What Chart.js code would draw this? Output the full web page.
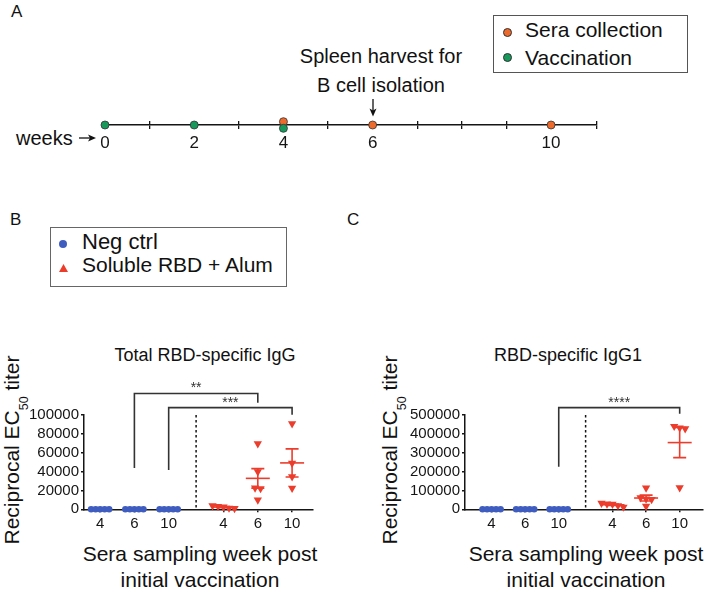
<!DOCTYPE html>
<html><head><meta charset="utf-8">
<script src="https://cdn.jsdelivr.net/npm/chart.js@4.4.1/dist/chart.umd.min.js"></script>
<style>
html,body{margin:0;padding:0;background:#fff;}
body{width:708px;height:592px;position:relative;overflow:hidden;font-family:"Liberation Sans",Arial,sans-serif;color:#111;}
.t{position:absolute;white-space:nowrap;line-height:1;}
.c{transform:translateX(-50%);}
.rot{transform:translate(-50%,-50%) rotate(-90deg);}
.box{position:absolute;box-sizing:border-box;}
canvas{position:absolute;}
.dot{position:absolute;border-radius:50%;box-sizing:border-box;}
.tri{position:absolute;clip-path:polygon(50% 0,100% 100%,0 100%);}
</style></head><body>

<!-- Panel A -->
<div class="t" style="left:11px;top:2.6px;font-size:17px;">A</div>
<div class="box" style="left:493px;top:15px;width:195px;height:58px;border:1px solid #555;"></div>
<div class="dot" style="left:502.5px;top:27.5px;width:9px;height:9px;background:#eb6a2c;border:0.8px solid #333;"></div>
<div class="t" style="left:525px;top:19.2px;font-size:21px;">Sera collection</div>
<div class="dot" style="left:502.5px;top:52.5px;width:9px;height:9px;background:#16995b;border:0.8px solid #333;"></div>
<div class="t" style="left:525px;top:47.2px;font-size:21px;">Vaccination</div>
<div class="t c" style="left:381px;top:46.1px;font-size:20px;">Spleen harvest for</div>
<div class="t c" style="left:381px;top:75.1px;font-size:20px;">B cell isolation</div>
<div class="t" style="left:16px;top:128.1px;font-size:20px;">weeks</div>
<svg style="position:absolute;left:0;top:0" width="708" height="160">
  <line x1="79" y1="138" x2="92" y2="138" stroke="#111" stroke-width="1.3"/>
  <polygon points="96,138 88,134.5 90,138 88,141.5" fill="#111"/>
  <line x1="373" y1="99" x2="373" y2="112" stroke="#111" stroke-width="1.3"/>
  <polygon points="373,116.5 369.5,108.5 373,110.5 376.5,108.5" fill="#111"/>
</svg>
<canvas id="timeline" width="708" height="65" style="left:0;top:95px;"></canvas>

<!-- Panel B / C labels -->
<div class="t" style="left:10px;top:210.6px;font-size:17px;">B</div>
<div class="t" style="left:347px;top:210.6px;font-size:17px;">C</div>
<div class="box" style="left:50px;top:227px;width:237px;height:60px;border:1px solid #666;"></div>
<div class="dot" style="left:59px;top:240px;width:8px;height:8px;background:#3f5cbf;"></div>
<div class="t" style="left:82px;top:231.4px;font-size:22px;">Neg ctrl</div>
<div class="tri" style="left:59px;top:264px;width:9px;height:8px;background:#ec3d2c;"></div>
<div class="t" style="left:82px;top:254.2px;font-size:21px;">Soluble RBD + Alum</div>

<div class="t c" style="left:205px;top:345.8px;font-size:18px;">Total RBD-specific IgG</div>
<div class="t c" style="left:568px;top:345.8px;font-size:18px;">RBD-specific IgG1</div>

<div class="t rot" style="left:10.7px;top:450px;font-size:21px;">Reciprocal EC<span style="font-size:12.5px;position:relative;top:9px;">50</span> titer</div>
<div class="t rot" style="left:389.4px;top:450px;font-size:21px;">Reciprocal EC<span style="font-size:12.5px;position:relative;top:9px;">50</span> titer</div>

<div class="t c" style="left:200px;top:543.2px;font-size:21px;">Sera sampling week post</div>
<div class="t c" style="left:200px;top:569.2px;font-size:21px;">initial vaccination</div>
<div class="t c" style="left:586px;top:543.2px;font-size:21px;">Sera sampling week post</div>
<div class="t c" style="left:586px;top:569.2px;font-size:21px;">initial vaccination</div>

<canvas id="plotB" width="330" height="162" style="left:0;top:370px;"></canvas>
<canvas id="plotC" width="338" height="162" style="left:370px;top:370px;"></canvas>

<script>
// ---------------- DATA ----------------
// Panel A timeline
const weekTickLabels = [0, 2, 4, 6, 10];
const seraCollectionWeeks = [4, 6, 10];
const vaccinationWeeks = [0, 2, 4];

// Panels B & C
const groupNames = ['Neg ctrl', 'Soluble RBD + Alum'];
const samplingWeeks = ['4', '6', '10'];

// Total RBD-specific IgG (reciprocal EC50 titer), one array per sampling week
const igGNegCtrl = [[0, 0, 0, 0, 0], [0, 0, 0, 0, 0], [0, 0, 0, 0, 0]];
const igGSolubleRBD = [[3800, 3200, 900, 1300, 2600], [69500, 40000, 22700, 22000, 9900], [90800, 49000, 34700, 22300]];
const igGYTicks = [0, 20000, 40000, 60000, 80000, 100000];
const igGComparisons = [{neg: 1, rbd: 1, label: '**'}, {neg: 2, rbd: 2, label: '***'}];

// RBD-specific IgG1
const igG1NegCtrl = [[0, 0, 0, 0, 0], [0, 0, 0, 0, 0], [0, 0, 0, 0, 0]];
const igG1SolubleRBD = [[32000, 29000, 27000, 12000, 20000], [113000, 62000, 55000, 52000, 17000], [440000, 432000, 428000, 115000]];
const igG1YTicks = [0, 100000, 200000, 300000, 400000, 500000];
const igG1Comparisons = [{neg: 2, rbd: 2, label: '****'}];

// ---------------- STYLE ----------------
const FONT = '"Liberation Sans", Arial, sans-serif';
Chart.defaults.font.family = FONT;
Chart.defaults.color = '#111';
const BLUE = '#3f5cbf', RED = '#ec3d2c', ORANGE = '#eb6a2c', GREEN = '#16995b', INK = '#151515';

// ---------------- TIMELINE ----------------
const STACK = 0.83;
new Chart(document.getElementById('timeline'), {
  type: 'scatter',
  data: {datasets: [
    {label: 'Vaccination', data: vaccinationWeeks.map(w => ({x: w, y: seraCollectionWeeks.includes(w) ? -STACK : 0})),
     pointRadius: 4, pointBackgroundColor: GREEN, pointBorderColor: '#333', pointBorderWidth: 0.8, clip: false},
    {label: 'Sera collection', data: seraCollectionWeeks.map(w => ({x: w, y: vaccinationWeeks.includes(w) ? STACK : 0})),
     pointRadius: 4, pointBackgroundColor: ORANGE, pointBorderColor: '#333', pointBorderWidth: 0.8, clip: false}
  ]},
  options: {
    animation: false, responsive: false, events: [],
    layout: {padding: {left: 105, right: 111, top: 26, bottom: 0}},
    plugins: {legend: {display: false}, tooltip: {enabled: false}},
    scales: {
      x: {type: 'linear', min: 0, max: 11.03,
        ticks: {stepSize: 1, autoSkip: false, maxRotation: 0, padding: 4, font: {size: 17}, color: INK,
          callback: v => weekTickLabels.includes(v) ? String(v) : ''},
        grid: {drawOnChartArea: true, drawTicks: true, tickLength: 4, lineWidth: 1.3,
          color: c => (c.tick && weekTickLabels.includes(c.tick.value)) ? 'rgba(0,0,0,0)' : INK},
        border: {display: true, color: INK, width: 1.6},
        afterFit: s => { s.height = 35; }},
      y: {display: false, min: 0, max: 1}
    }
  }
});

// ---------------- PLOTS ----------------
const GROUP_GAP = 3.6;
const swarmPlugin = {
  id: 'swarm',
  afterDatasetsUpdate(chart) {
    chart.data.datasets.forEach((ds, di) => {
      const meta = chart.getDatasetMeta(di);
      const groups = new Map();
      meta.data.forEach((el, i) => {
        const k = ds.data[i].x;
        if (!groups.has(k)) groups.set(k, []);
        groups.get(k).push(el);
      });
      groups.forEach(els => {
        els.sort((a, b) => a.y - b.y);
        let cl = [els[0]];
        const flush = () => { const n = cl.length; cl.forEach((el, j) => { el.x += (j - (n - 1) / 2) * ds.swarmGap; }); };
        for (let j = 1; j < els.length; j++) {
          if (els[j].y - cl[cl.length - 1].y < ds.swarmTol) cl.push(els[j]);
          else { flush(); cl = [els[j]]; }
        }
        flush();
      });
    });
  }
};
const statsPlugin = {
  id: 'stats',
  beforeDatasetsDraw(chart) {
    const {ctx, scales: {x, y}, chartArea} = chart;
    ctx.save();
    const ds0 = chart.data.datasets[0], ds1 = chart.data.datasets[1];
    const xd = x.getPixelForValue((ds0.groupPos[ds0.groupPos.length - 1] + ds1.groupPos[0]) / 2);
    ctx.strokeStyle = INK; ctx.lineWidth = 1.5; ctx.setLineDash([2.5, 2.5]);
    ctx.beginPath(); ctx.moveTo(xd, chartArea.top); ctx.lineTo(xd, chartArea.bottom); ctx.stroke();
    ctx.setLineDash([]);
    chart.data.datasets.forEach(ds => {
      ds.groupsRaw.forEach((vals, w) => {
        const xc = x.getPixelForValue(ds.groupPos[w]);
        const n = vals.length;
        const mean = vals.reduce((a, b) => a + b, 0) / n;
        const sd = Math.sqrt(vals.reduce((a, b) => a + (b - mean) * (b - mean), 0) / (n - 1));
        const sem = sd / Math.sqrt(n);
        ctx.strokeStyle = ds.pointBackgroundColor; ctx.lineWidth = 1.6;
        const ym = y.getPixelForValue(mean);
        ctx.beginPath(); ctx.moveTo(xc - 12, ym); ctx.lineTo(xc + 12, ym); ctx.stroke();
        if (sem > 0) {
          const yu = y.getPixelForValue(mean + sem), yl = y.getPixelForValue(mean - sem);
          ctx.beginPath();
          ctx.moveTo(xc, yu); ctx.lineTo(xc, yl);
          ctx.moveTo(xc - 6.5, yu); ctx.lineTo(xc + 6.5, yu);
          ctx.moveTo(xc - 6.5, yl); ctx.lineTo(xc + 6.5, yl);
          ctx.stroke();
        }
      });
    });
    ctx.restore();
  }
};
const bracketPlugin = {
  id: 'brackets',
  afterDraw(chart, args, opts) {
    const {ctx, scales: {x, y}} = chart;
    const ds0 = chart.data.datasets[0], ds1 = chart.data.datasets[1];
    ctx.save();
    ctx.strokeStyle = '#333'; ctx.fillStyle = '#333'; ctx.lineWidth = 1.6;
    ctx.font = '14px ' + FONT; ctx.textAlign = 'center'; ctx.textBaseline = 'alphabetic';
    opts.items.forEach((b, i) => {
      const g = opts.geometry[i];
      const x1 = x.getPixelForValue(ds0.groupPos[b.neg]);
      const x2 = x.getPixelForValue(ds1.groupPos[b.rbd]);
      const yt = y.getPixelForValue(g.top);
      ctx.beginPath();
      ctx.moveTo(x1, y.getPixelForValue(g.left)); ctx.lineTo(x1, yt);
      ctx.lineTo(x2, yt); ctx.lineTo(x2, y.getPixelForValue(g.right));
      ctx.stroke();
      ctx.fillText(b.label, (x1 + x2) / 2, yt - 1);
    });
    ctx.restore();
  }
};

function makePlot(id, neg, rbd, yTicks, comparisons, geometry, lay) {
  const posNeg = samplingWeeks.map((_, i) => i);
  const posRbd = samplingWeeks.map((_, i) => i + GROUP_GAP);
  const allPos = posNeg.concat(posRbd);
  const tickLabels = samplingWeeks.concat(samplingWeeks);
  const pts = (groups, pos) => groups.flatMap((vals, i) => vals.map(v => ({x: pos[i], y: v})));
  new Chart(document.getElementById(id), {
    type: 'scatter',
    data: {datasets: [
      {label: groupNames[0], data: pts(neg, posNeg), groupsRaw: neg, groupPos: posNeg,
       pointStyle: 'circle', pointRadius: 3.3, pointBackgroundColor: BLUE, pointBorderWidth: 0,
       swarmGap: 4.5, swarmTol: 5, clip: false},
      {label: groupNames[1], data: pts(rbd, posRbd), groupsRaw: rbd, groupPos: posRbd,
       pointStyle: 'triangle', rotation: 180, pointRadius: 4.8, pointBackgroundColor: RED, pointBorderWidth: 0,
       swarmGap: 5.5, swarmTol: 6, clip: false}
    ]},
    plugins: [swarmPlugin, statsPlugin, bracketPlugin],
    options: {
      animation: false, responsive: false, events: [],
      layout: {padding: {left: 0, right: lay.right, top: 45, bottom: 0}},
      plugins: {legend: {display: false}, tooltip: {enabled: false},
        brackets: {items: comparisons, geometry: geometry}},
      scales: {
        x: {type: 'linear', min: lay.xmin, max: lay.xmax,
          afterBuildTicks: s => { s.ticks = allPos.map(v => ({value: v})); },
          ticks: {autoSkip: false, maxRotation: 0, padding: 3, font: {size: 15}, color: INK,
            callback: (v, i) => tickLabels[i]},
          grid: {drawOnChartArea: false, drawTicks: true, tickLength: 3, color: INK, lineWidth: 1.5},
          border: {display: true, color: INK, width: 1.5},
          afterFit: s => { s.height = 22.7; }},
        y: {type: 'linear', min: yTicks[0], max: yTicks[yTicks.length - 1],
          afterBuildTicks: s => { s.ticks = yTicks.map(v => ({value: v})); },
          ticks: {autoSkip: false, padding: 2, font: {size: 15}, color: INK, callback: v => String(v)},
          grid: {drawOnChartArea: false, drawTicks: true, tickLength: 3, color: INK, lineWidth: 1.5},
          border: {display: true, color: INK, width: 1.5},
          afterFit: s => { s.width = lay.yw; }}
      }
    }
  });
}

makePlot('plotB', igGNegCtrl, igGSolubleRBD, igGYTicks, igGComparisons,
  [{top: 122800, left: 43900, right: 113100}, {top: 107800, left: 41800, right: 100300}],
  {yw: 84, right: 17, xmin: -0.47, xmax: 6.21});
makePlot('plotC', igG1NegCtrl, igG1SolubleRBD, igG1YTicks, igG1Comparisons,
  [{top: 539000, left: 225000, right: 507000}],
  {yw: 95, right: 1, xmin: -0.79, xmax: 6.3});
</script>
</body></html>
